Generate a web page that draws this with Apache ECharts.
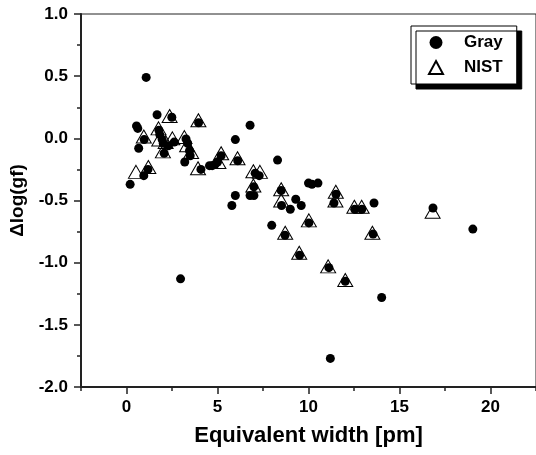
<!DOCTYPE html>
<html>
<head>
<meta charset="utf-8">
<script src="https://cdn.jsdelivr.net/npm/echarts@6/dist/echarts.min.js"></script>
<style>
html,body{margin:0;padding:0;background:#fff;}
#c{width:536px;height:455px;}
</style>
</head>
<body>
<div id="c"></div>
<script>
var grayX = [0.2,0.55,0.62,0.67,0.97,0.95,1.08,1.18,1.68,1.78,1.83,1.96,2.07,2.02,2.3,2.49,2.62,2.97,3.2,3.27,3.36,3.46,3.5,3.96,4.09,4.56,4.71,4.86,5.0,5.2,5.79,5.98,5.98,6.11,6.79,6.79,7.0,7.0,7.07,7.29,7.98,8.3,8.5,8.52,8.71,9.0,9.3,9.6,9.51,10.0,10.19,10.52,10.02,11.12,11.2,11.4,11.51,12.02,12.54,12.93,13.55,13.6,14.02,16.84,19.03];
var grayY = [-0.37,0.10,0.08,-0.08,-0.01,-0.30,0.49,-0.25,0.19,0.065,0.03,-0.01,-0.12,-0.04,-0.06,0.17,-0.03,-1.13,-0.19,-0.005,-0.04,-0.10,-0.14,0.125,-0.25,-0.22,-0.22,-0.21,-0.19,-0.14,-0.54,-0.46,-0.01,-0.18,0.105,-0.46,-0.46,-0.39,-0.28,-0.30,-0.70,-0.175,-0.42,-0.54,-0.78,-0.57,-0.49,-0.54,-0.94,-0.36,-0.37,-0.36,-0.68,-1.04,-1.77,-0.52,-0.45,-1.15,-0.57,-0.57,-0.77,-0.52,-1.28,-0.56,-0.73];
var nistX = [0.52,0.95,1.2,1.76,1.8,2.0,2.37,2.52,2.15,3.18,3.33,3.55,3.95,3.93,5.2,5.05,6.1,6.97,6.97,7.33,8.5,8.5,8.72,9.49,10.02,11.08,11.5,11.48,12.02,12.52,12.92,13.51,16.82];
var nistY = [-0.27,0.015,-0.23,0.08,-0.01,-0.105,0.18,0.0,-0.03,0.01,-0.055,-0.11,0.145,-0.24,-0.12,-0.19,-0.16,-0.265,-0.38,-0.27,-0.41,-0.50,-0.76,-0.92,-0.66,-1.03,-0.43,-0.50,-1.14,-0.55,-0.55,-0.76,-0.59];
var xMajorTicks = [0,5,10,15,20];
var xMinorTicks = [-2.5,2.5,7.5,12.5,17.5,22.5];

function pairs(xs, ys){ return xs.map(function(v,i){ return [v, ys[i]]; }); }

var FONT = 'Liberation Sans, Arial, sans-serif';
var chart = echarts.init(document.getElementById('c'), null, {renderer:'canvas'});
chart.setOption({
  animation:false,
  backgroundColor:'#fff',
  grid:{left:80, top:14, width:458, height:373, show:true, borderColor:'#222', borderWidth:1, backgroundColor:'transparent'},
  xAxis:[{
    type:'value', min:-2.5, max:22.5,
    position:'bottom',
    axisLine:{show:true, onZero:false, lineStyle:{color:'#222', width:2}},
    axisTick:{show:true, length:7, inside:false, customValues:xMajorTicks, lineStyle:{color:'#222', width:1.5}},
    axisLabel:{show:true, customValues:xMajorTicks, margin:12, fontSize:17, fontWeight:'bold', color:'#000', fontFamily:FONT},
    splitLine:{show:false},
    name:'Equivalent width [pm]', nameLocation:'middle', nameGap:38,
    nameTextStyle:{fontSize:22, fontWeight:'bold', color:'#000', fontFamily:FONT}
  },{
    type:'value', min:-2.5, max:22.5,
    position:'bottom',
    axisLine:{show:false, onZero:false},
    axisTick:{show:true, length:4, customValues:xMinorTicks, lineStyle:{color:'#222', width:1.5}},
    axisLabel:{show:false},
    splitLine:{show:false}
  }],
  yAxis:{
    type:'value', min:-2, max:1, interval:0.5,
    axisLine:{show:true, onZero:false, lineStyle:{color:'#222', width:2}},
    axisTick:{show:true, length:7, lineStyle:{color:'#222', width:1.5}},
    minorTick:{show:true, splitNumber:2, length:4, lineStyle:{color:'#222', width:1.5}},
    axisLabel:{margin:13, fontSize:17, fontWeight:'bold', color:'#000', fontFamily:FONT,
      formatter:function(v){ return v.toFixed(1); }},
    splitLine:{show:false},
    name:'\u0394log(gf)', nameLocation:'middle', nameGap:54, nameRotate:90,
    nameTextStyle:{fontSize:19, fontWeight:'bold', color:'#000', fontFamily:FONT}
  },
  legend:{
    orient:'vertical', left:411, top:26,
    padding:[8,14,8,17], itemGap:8, itemWidth:14, itemHeight:13,
    backgroundColor:'#fff', borderColor:'#000', borderWidth:1,
    shadowColor:'#000', shadowBlur:0, shadowOffsetX:5, shadowOffsetY:5,
    textStyle:{fontSize:17, fontWeight:'bold', color:'#000', fontFamily:FONT, padding:[0,0,0,16]},
    data:[{name:'Gray'},{name:'NIST'}]
  },
  series:[{
    name:'NIST', type:'scatter', xAxisIndex:0,
    symbol:'triangle', symbolSize:[15,13],
    itemStyle:{color:'rgba(255,255,255,0)', borderColor:'#000', borderWidth:1, opacity:1},
    data:pairs(nistX, nistY), z:2
  },{
    name:'Gray', type:'scatter', xAxisIndex:0,
    symbol:'circle', symbolSize:9,
    itemStyle:{color:'#000', opacity:1},
    data:pairs(grayX, grayY), z:3
  }]
});
</script>
</body>
</html>
